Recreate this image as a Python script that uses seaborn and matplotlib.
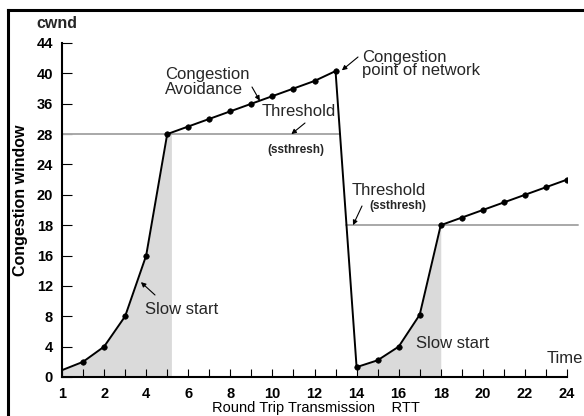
import numpy as np
import pandas as pd
import matplotlib.pyplot as plt
import seaborn as sns

# DATA
rtt = [0, 1, 2, 3, 4, 5, 6, 7, 8, 9, 10, 11, 12, 13, 14, 15, 16, 17, 18, 19, 20, 21, 22, 23, 24]
cwnd = [0.9, 2, 4, 8, 16, 28, 30, 32, 34, 36, 37, 38, 39, 40.3,
        1.3, 2.2, 4, 8.2, 18, 18.5, 19, 19.5, 20, 21, 22]
ssthresh = [28, 18]

y_tick_values = [0, 4, 8, 12, 16, 18, 20, 24, 28, 36, 40, 44]
x_tick_pos = [0, 2, 4, 6, 8, 10, 12, 14, 16, 18, 20, 22, 24]
x_tick_labels = ['1', '2', '4', '6', '8', '10', '12', '14', '16', '18', '20', '22', '24']

W, H = 584, 416
shade = '#dadada'
thresh_col = '#a8a8a8'

sns.set_theme(style='ticks')
plt.rcParams['font.family'] = ['Liberation Sans', 'DejaVu Sans']


def fp(x, y):
    # pixel position -> figure fraction
    return (x / W, 1 - y / H)


# the y axis of the diagram is not linear: labels are evenly spaced
slots = np.arange(len(y_tick_values))


def fwd(v):
    return np.interp(v, y_tick_values, slots)


def inv(p):
    return np.interp(p, slots, y_tick_values)


fig = plt.figure(figsize=(W / 100, H / 100), dpi=100)
ax = fig.add_axes([62 / W, 39 / H, 505 / W, 334 / H])
ax.set_yscale('function', functions=(fwd, inv))

df = pd.DataFrame({'rtt': rtt, 'cwnd': cwnd})

# shaded slow start areas
x1 = np.append(df.rtt[:6], df.rtt[5] + 0.2)
y1 = np.append(df.cwnd[:6], df.cwnd[5])
ax.fill_between(x1, y1, color=shade, lw=0, zorder=0)
ax.fill_between(df.rtt[14:19], df.cwnd[14:19], color=shade, lw=0, zorder=0)


def drop_x(level):
    p0, p1, pl = fwd(cwnd[13]), fwd(cwnd[14]), fwd(level)
    return rtt[13] + (p0 - pl) / (p0 - p1)


# threshold lines
ax.plot([0, drop_x(ssthresh[0])], [ssthresh[0]] * 2, color=thresh_col, lw=1.4, zorder=1)
ax.plot([drop_x(ssthresh[1]), 24.5], [ssthresh[1]] * 2, color=thresh_col, lw=1.4,
        zorder=1, clip_on=False)

sns.lineplot(data=df, x='rtt', y='cwnd', ax=ax, color='black', lw=1.4,
             marker='o', markersize=4, markeredgecolor='black', markeredgewidth=0.4,
             markevery=list(range(1, 25)), zorder=3)

ax.set_xlim(0, 24)
ax.set_ylim(0, 44)
ax.set_xticks(x_tick_pos, x_tick_labels)
ax.set_xticks(rtt, minor=True)
ax.set_yticks(y_tick_values, [str(v) for v in y_tick_values])
ax.yaxis.set_minor_locator(plt.NullLocator())

ax.tick_params(axis='x', which='both', direction='in', length=5.8, width=0.8,
               color='black', pad=7, labelsize=10.5, labelcolor='black')
ax.tick_params(axis='y', which='both', direction='in', length=7.2, width=0.8,
               color='black', pad=6.5, labelsize=10.5, labelcolor='black')
for lab in ax.get_xticklabels() + ax.get_yticklabels():
    lab.set_fontweight('bold')

for s in ['top', 'right']:
    ax.spines[s].set_visible(False)
for s in ['left', 'bottom']:
    ax.spines[s].set_linewidth(1.5)
    ax.spines[s].set_color('black')

ax.set_ylabel('Congestion window', fontsize=11.5, fontweight='bold', va='center', color='black')
ax.yaxis.set_label_coords(-0.083, 0.53)
ax.set_xlabel('Round Trip Transmission    RTT', fontsize=10.5, va='baseline', color='black')
ax.xaxis.set_label_coords(0.503, -0.1048)

# TEXT
fig.text(*fp(57, 23), 'cwnd', ha='center', va='center', fontsize=11.5, fontweight='bold')
fig.text(*fp(165, 81.5), 'Congestion\nAvoidance', ha='left', va='center', fontsize=12, linespacing=1.0)
fig.text(*fp(362, 64), 'Congestion\npoint of network', ha='left', va='center', fontsize=12, linespacing=0.85)
fig.text(*fp(262, 110), 'Threshold', ha='left', va='center_baseline', fontsize=12)
fig.text(*fp(296, 148), '(ssthresh)', ha='center', va='center_baseline', fontsize=8.5, fontweight='bold')
fig.text(*fp(352, 189), 'Threshold', ha='left', va='center_baseline', fontsize=12)
fig.text(*fp(398, 205), '(ssthresh)', ha='center', va='center_baseline', fontsize=8.5, fontweight='bold')
fig.text(*fp(145, 308), 'Slow start', ha='left', va='center_baseline', fontsize=12)
fig.text(*fp(416, 342), 'Slow start', ha='left', va='center_baseline', fontsize=12)
fig.text(*fp(583, 357), 'Time', ha='right', va='center_baseline', fontsize=12)

# ARROWS
arrow = dict(arrowstyle='-|>', lw=0.8, color='black', mutation_scale=7, shrinkA=0, shrinkB=0)
ax.annotate('', xy=(9.4, 36.4), xytext=fp(252, 87), textcoords='figure fraction', arrowprops=arrow)
ax.annotate('', xy=(13.3, 40.4), xytext=fp(358, 57), textcoords='figure fraction', arrowprops=arrow)
ax.annotate('', xy=(10.9, 28), xytext=fp(305, 123), textcoords='figure fraction', arrowprops=arrow)
ax.annotate('', xy=(13.83, 18), xytext=fp(362, 206), textcoords='figure fraction', arrowprops=arrow)
ax.annotate('', xy=(3.75, 12.5), xytext=fp(155, 295), textcoords='figure fraction', arrowprops=arrow)

# FRAME (cropped at right and bottom)
fig.add_artist(plt.Line2D([8 / W, 1], [1 - 10 / H] * 2, color='black', lw=2.2,
                          transform=fig.transFigure, solid_capstyle='projecting'))
fig.add_artist(plt.Line2D([8 / W] * 2, [0, 1 - 10 / H], color='black', lw=2.2,
                          transform=fig.transFigure, solid_capstyle='projecting'))

fig.savefig('out.png', dpi=100)
